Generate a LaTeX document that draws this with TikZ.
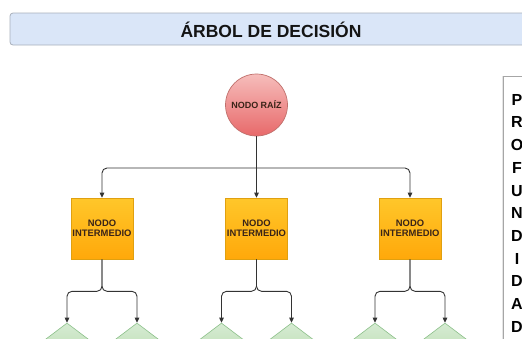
\documentclass[tikz,border=0pt]{standalone}
\usepackage{fontspec}
\setmainfont{Liberation Sans}
\usetikzlibrary{shapes.geometric,arrows.meta,shadows}

\definecolor{titlefill}{HTML}{DAE6F8}
\definecolor{titleline}{HTML}{A7AFBA}
\definecolor{rootTop}{HTML}{F6BDBB}
\definecolor{rootBot}{HTML}{E8696A}
\definecolor{rootLine}{HTML}{C0706C}
\definecolor{midTop}{HTML}{FFC72A}
\definecolor{midBot}{HTML}{FFA80A}
\definecolor{midLine}{HTML}{E0A010}
\definecolor{leafTop}{HTML}{D6EBD3}
\definecolor{leafBot}{HTML}{A9D59A}
\definecolor{leafLine}{HTML}{8CC08A}
\definecolor{linkcol}{HTML}{333333}
\definecolor{labelcol}{HTML}{3A2418}

\tikzset{
  titlebar/.style={draw=titleline, fill=titlefill, rounded corners=3pt, line width=0.8pt},
  rootnode/.style={circle, minimum size=62pt, inner sep=0pt, draw=rootLine, line width=0.7pt,
    top color=rootTop, bottom color=rootBot, font=\bfseries\fontsize{9}{10}\selectfont,
    text=labelcol},
  midnode/.style={rectangle, minimum width=62pt, minimum height=61pt, inner sep=0pt,
    draw=midLine, line width=0.6pt, top color=midTop, bottom color=midBot, align=center,
    font=\bfseries\fontsize{9.4}{10.5}\selectfont, text=labelcol},
  leafnode/.style={diamond, minimum width=82pt, minimum height=62pt, inner sep=0pt,
    draw=leafLine, line width=0.6pt, top color=leafTop, bottom color=leafBot},
  link/.style={draw=linkcol, line width=0.9pt, rounded corners=5pt,
    -{Triangle[length=5pt,width=4.5pt]}},
  sidepanel/.style={draw=gray!70, line width=1pt, fill=white,
    drop shadow={shadow xshift=-1.5pt, shadow yshift=0pt, fill=gray!40}},
}

\begin{document}
\begin{tikzpicture}[x=1pt, y=-1pt]
  \useasboundingbox (0,0) rectangle (522,338);
  \begin{scope}
  \clip (0,0) rectangle (522,338);

  % heading bar
  \draw[titlebar] (10,13) rectangle (540,45);
  \node[font=\bfseries\fontsize{17.5}{19}\selectfont, text=black!92] (title) at (271,30) {ÁRBOL DE DECISIÓN};

  % depth panel
  \draw[sidepanel] (503,76) rectangle (540,360);
  \node[font=\bfseries\fontsize{16}{22.7}\selectfont, align=center, anchor=north, inner sep=0pt]
    (depth) at (517,94) {P\\R\\O\\F\\U\\N\\D\\I\\D\\A\\D};

  % root
  \node[rootnode] (root) at (256.5,105) {NODO RAÍZ};

  % intermediate level
  \foreach \n/\x in {m1/102, m2/256.5, m3/410}
    \node[midnode] (\n) at (\x,228.5) {NODO\\INTERMEDIO};

  % leaves
  \foreach \n/\x in {l1/67, l2/137, l3/221.5, l4/291.5, l5/375, l6/445}
    \node[leafnode] (\n) at (\x,354) {};

  % root to intermediates
  \coordinate (split) at (root.south |- 0,168);
  \draw[link] (root.south) -- (m2.north);
  \draw[link] (split) -| (m1.north);
  \draw[link] (split) -| (m3.north);

  % intermediates to leaves (brace-like split)
  \foreach \m/\a/\b in {m1/l1/l2, m2/l3/l4, m3/l5/l6} {
    \coordinate (\m j) at ([yshift=-32pt]\m.south);
    \draw[link] (\m.south) -- (\m j) -| (\a.north);
    \draw[link] (\m.south) -- (\m j) -| (\b.north);
  }
  \end{scope}
\end{tikzpicture}
\end{document}
